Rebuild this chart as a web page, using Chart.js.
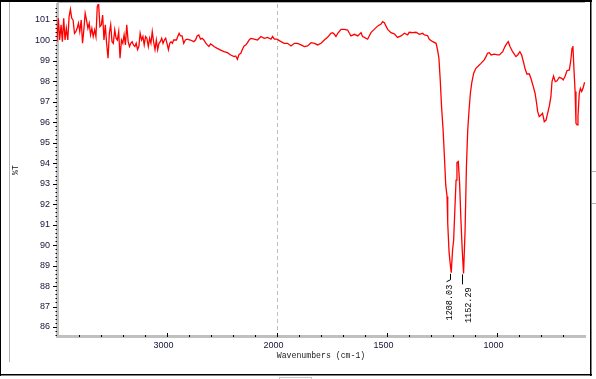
<!DOCTYPE html>
<html>
<head>
<meta charset="utf-8">
<title>IR spectrum</title>
<script src="https://cdn.jsdelivr.net/npm/chart.js@4.4.0/dist/chart.umd.min.js"></script>
<style>
  html, body { margin: 0; padding: 0; background: #fff; }
  canvas { display: block; }
</style>
</head>
<body>
<canvas id="irChart" width="596" height="379"></canvas>
<script>
// Spectrum (wavenumber in cm-1, transmittance in %T)
const wavenumbers = [
  4000, 3988, 3976, 3963, 3951, 3939, 3927, 3915, 3902, 3890, 3878, 3866, 3854, 3841, 3829, 3817,
  3805, 3793, 3780, 3768, 3756, 3744, 3732, 3719, 3707, 3695, 3683, 3671, 3658, 3646, 3634, 3622,
  3610, 3597, 3585, 3573, 3561, 3549, 3536, 3524, 3512, 3500, 3488, 3475, 3463, 3451, 3439, 3427,
  3414, 3402, 3390, 3378, 3366, 3353, 3341, 3329, 3317, 3305, 3292, 3280, 3268, 3256, 3244, 3231,
  3219, 3207, 3195, 3183, 3170, 3158, 3146, 3134, 3122, 3109, 3097, 3085, 3073, 3061, 3048, 3036,
  3024, 3012, 3000, 2987, 2975, 2963, 2951, 2939, 2926, 2914, 2902, 2890,
  2878, 2863, 2848, 2833, 2817, 2787, 2756, 2741, 2726, 2711, 2695, 2680, 2665, 2650, 2634, 2619,
  2604, 2589, 2573, 2543, 2512, 2482, 2451, 2421, 2390, 2375, 2360, 2345, 2329, 2314, 2299, 2284,
  2268, 2253, 2238, 2207, 2177, 2146, 2116, 2085, 2055, 2040, 2024, 2000,
  1982, 1967, 1952, 1936, 1921, 1906, 1891, 1876, 1861, 1845, 1830, 1815, 1800, 1785, 1770, 1755,
  1747, 1739, 1732, 1724, 1709, 1694, 1679, 1671, 1664, 1648, 1633, 1618, 1611, 1603, 1588, 1573,
  1558, 1542, 1527, 1520, 1512, 1505, 1497, 1482, 1467, 1452, 1444,
  1436, 1421, 1406, 1399, 1383, 1368, 1353, 1338, 1330, 1315, 1308, 1292, 1277, 1270, 1264, 1258,
  1252, 1245, 1239, 1233, 1227, 1224, 1218, 1213, 1208, 1202, 1197, 1191, 1186, 1182, 1176, 1170,
  1164, 1158, 1152, 1145, 1139, 1133, 1127, 1121, 1115, 1106, 1096, 1085, 1073, 1058, 1050, 1043,
  1035, 1027, 1012, 997, 989, 974, 964, 955, 949, 941, 929, 914, 906, 896, 888, 880,
  873, 864, 853, 846, 835, 827, 820, 815, 808, 800, 793, 785, 777, 770, 762, 755,
  750, 743, 735, 727, 717, 706, 699, 690, 682, 671, 664, 659, 655, 650, 645, 641,
  636, 632, 626, 621, 615, 609, 603, 599
];
const transmittance = [
  99.94, 101.08, 100.02, 100.76, 99.94, 101.08, 100.02, 100.59, 100.02, 101.16, 101.52, 101.08, 101.00, 100.35, 100.43, 100.59,
  100.84, 100.43, 101.00, 99.86, 100.51, 101.33, 101.00, 100.59, 100.84, 100.27, 100.59, 100.19, 100.51, 100.19, 101.65, 101.81,
  100.68, 100.76, 101.24, 100.02, 100.76, 99.86, 99.13, 100.35, 100.76, 99.94, 99.86, 100.51, 100.11, 100.02, 100.43, 99.13,
  100.02, 99.86, 100.27, 99.78, 100.76, 99.94, 99.70, 99.86, 99.94, 99.78, 99.70, 99.86, 99.55, 99.70, 100.35, 100.02,
  100.19, 99.78, 100.19, 100.11, 99.70, 100.11, 99.86, 100.43, 99.94, 99.55, 100.02, 99.55, 99.86, 99.94, 100.11, 99.86,
  100.02, 100.11, 99.86, 99.55, 99.86, 99.94, 99.86, 100.02, 100.02, 100.02, 100.19, 100.35,
  100.22, 100.22, 99.86, 100.02, 100.06, 100.02, 99.94, 100.02, 100.22, 100.27, 100.06, 100.10, 100.02, 99.89, 99.78, 99.70,
  99.83, 99.78, 99.70, 99.61, 99.53, 99.45, 99.40, 99.29, 99.21, 99.24, 99.08, 99.32, 99.37, 99.57, 99.73, 99.78,
  99.89, 100.02, 100.10, 100.06, 100.02, 100.19, 100.10, 100.15, 100.06, 100.19, 100.06, 100.06,
  99.94, 99.86, 99.86, 99.73, 99.86, 99.86, 99.78, 99.70, 99.73, 99.89, 99.86, 99.78, 99.86, 100.02, 100.15, 100.35,
  100.38, 100.30, 100.19, 100.35, 100.54, 100.54, 100.51, 100.35, 100.22, 100.30, 100.22, 100.38, 100.19, 100.15, 100.06, 100.38,
  100.54, 100.71, 100.80, 100.92, 100.87, 100.71, 100.54, 100.38, 100.32, 100.15, 100.19,
  100.22, 100.35, 100.27, 100.40, 100.38, 100.40, 100.30, 100.35, 100.27, 100.23, 100.06, 99.94, 99.86, 99.53, 99.13, 98.07,
  96.76, 95.63, 94.32, 92.94, 92.37, 91.08, 89.68, 89.12, 88.65, 89.76, 90.25, 91.88, 93.18, 94.03, 94.08, 93.04,
  91.23, 89.76, 88.62, 90.74, 93.83, 95.63, 96.60, 97.42, 97.91, 98.40, 98.64, 98.75, 98.88, 99.05, 99.21, 99.37,
  99.40, 99.29, 99.33, 99.29, 99.29, 99.45, 99.70, 99.86, 99.94, 99.70, 99.45, 99.21, 99.29, 99.45, 99.29, 98.96,
  98.64, 98.36, 98.36, 98.15, 97.74, 97.42, 96.93, 96.52, 96.28, 96.36, 96.44, 96.03, 96.11, 96.44, 96.80, 97.25,
  97.99, 98.26, 97.99, 98.03, 98.20, 98.15, 98.07, 98.26, 98.52, 98.56, 99.08, 99.62, 99.73, 98.56, 97.50, 95.95,
  95.87, 96.28, 97.42, 97.66, 97.50, 97.66, 97.91, 97.95
];
const xTickLabels = [3000, 2000, 1500, 1000];
const yTickLabels = [86, 87, 88, 89, 90, 91, 92, 93, 94, 95, 96, 97, 98, 99, 100, 101];
const peakWavenumbers = [1208.03, 1152.29];
const peakLabels = ['1208.03', '1152.29'];

// above 2000 cm-1 the axis runs at half scale, like the instrument plot
function toAxis(w) { return w > 2000 ? 2000 + (w - 2000) / 2 : w; }
function fromAxis(t) { return t > 2000 ? Math.round(2000 + (t - 2000) * 2) : Math.round(t); }

const labelColor = '#14143a';
const monoFont = '"Liberation Mono", "DejaVu Sans Mono", monospace';

function nearestValue(w) {
  let best = 0;
  for (let i = 1; i < wavenumbers.length; i++) {
    if (Math.abs(wavenumbers[i] - w) < Math.abs(wavenumbers[best] - w)) best = i;
  }
  return transmittance[best];
}

const decorations = {
  id: 'decorations',
  beforeDatasetsDraw(chart) {
    const { ctx, chartArea, scales } = chart;
    // dashed marker where the scale changes
    const px = Math.round(scales.x.getPixelForValue(2000)) + 0.5;
    ctx.save();
    ctx.strokeStyle = '#c0c0c0';
    ctx.lineWidth = 1;
    ctx.setLineDash([4, 3]);
    ctx.beginPath();
    ctx.moveTo(px, chartArea.top);
    ctx.lineTo(px, chartArea.bottom - 2);
    ctx.stroke();
    ctx.restore();
  },
  afterDraw(chart) {
    const { ctx, chartArea, scales } = chart;
    const x = scales.x, y = scales.y;
    ctx.save();
    ctx.fillStyle = '#000';
    // tick marks
    y.ticks.forEach(t => {
      const py = Math.round(y.getPixelForValue(t.value));
      if (yTickLabels.includes(Math.round(t.value)) && Math.abs(t.value - Math.round(t.value)) < 1e-6) {
        ctx.fillRect(chartArea.left - 4, py, 4, 1);
      } else {
        ctx.fillRect(chartArea.left - 1.5, py, 1.5, 1);
      }
    });
    x.ticks.forEach(t => {
      const px = Math.round(x.getPixelForValue(t.value));
      if (xTickLabels.includes(fromAxis(t.value))) {
        ctx.fillRect(px, chartArea.bottom - 3, 1, 4);
      } else {
        ctx.fillRect(px, chartArea.bottom - 1, 1, 2);
      }
    });

    // peak labels with leader lines
    ctx.strokeStyle = '#000';
    ctx.lineWidth = 1;
    ctx.font = '8.5px ' + monoFont;
    ctx.textAlign = 'right';
    ctx.textBaseline = 'middle';
    peakWavenumbers.forEach((w, i) => {
      const px = Math.round(x.getPixelForValue(toAxis(w))) - 0.5;
      const py = y.getPixelForValue(nearestValue(w));
      ctx.beginPath();
      if (i === 0) {
        ctx.moveTo(px, py + 1);
        ctx.lineTo(px, py + 7);
        ctx.lineTo(px - 4, py + 9);
      } else {
        ctx.moveTo(px, py + 1);
        ctx.lineTo(px, py + 11);
      }
      ctx.stroke();
      ctx.save();
      ctx.translate(i === 0 ? px - 1 : px + 6, py + (i === 0 ? 12 : 14));
      ctx.rotate(-Math.PI / 2);
      ctx.fillText(peakLabels[i], 0, 0);
      ctx.restore();
    });

    // window frame
    ctx.fillStyle = '#000';
    ctx.fillRect(0, 0, 592, 2);
    ctx.fillRect(0, 0, 1, 376);
    ctx.fillRect(590, 0, 1.5, 376);
    ctx.fillRect(0, 374, 592, 1.5);
    ctx.fillStyle = '#b4b4b4';
    ctx.fillRect(chartArea.left, 2, chartArea.right - chartArea.left, 1);
    ctx.fillRect(9, 2, 1, 360);
    ctx.fillRect(592, 171, 4, 1);
    ctx.fillRect(592, 203, 4, 1);
    ctx.strokeStyle = '#c8c8c8';
    ctx.strokeRect(279.5, 377.5, 32, 4);
    ctx.restore();
  }
};

const points = wavenumbers.map((w, i) => ({ x: toAxis(w), y: transmittance[i] }));

const ctx = document.getElementById('irChart').getContext('2d');
new Chart(ctx, {
  type: 'line',
  data: {
    datasets: [{
      data: points,
      borderColor: '#ff0000',
      borderWidth: 1.3,
      pointRadius: 0,
      tension: 0,
      fill: false
    }]
  },
  options: {
    responsive: false,
    animation: false,
    devicePixelRatio: 1,
    layout: { padding: { top: 4, right: 11, bottom: 0, left: 0 } },
    plugins: { legend: { display: false }, tooltip: { enabled: false } },
    scales: {
      x: {
        type: 'linear',
        reverse: true,
        min: 600,
        max: 3000,
        afterFit: s => {
          s.height = 43;
          s.paddingLeft = 0;
          s.paddingRight = 0;
        },
        afterBuildTicks: s => {
          const ticks = [];
          for (let t = 700; t <= 2900; t += 100) ticks.push({ value: t });
          s.ticks = ticks;
        },
        ticks: {
          autoSkip: false,
          maxRotation: 0,
          padding: 4,
          labelOffset: -3.5,
          color: labelColor,
          font: { family: '"Liberation Sans", Arial, sans-serif', size: 9 },
          callback: v => (xTickLabels.includes(fromAxis(v)) ? String(fromAxis(v)) : '')
        },
        grid: { drawOnChartArea: false, drawTicks: false },
        border: { color: '#c0c0c0', width: 3 },
        title: {
          display: true,
          text: 'Wavenumbers (cm-1)',
          color: '#1a1a1a',
          font: { family: monoFont, size: 8.2 },
          padding: { top: 0, bottom: 18 }
        }
      },
      y: {
        type: 'linear',
        min: 85.56,
        max: 101.78,
        afterFit: s => {
          s.width = 57;
          s.paddingTop = 0;
          s.paddingBottom = 0;
        },
        afterBuildTicks: s => {
          const ticks = [];
          for (let k = 428; k <= 508; k++) ticks.push({ value: Math.round(k * 0.2 * 10) / 10 });
          s.ticks = ticks.filter(t => t.value >= s.min && t.value <= s.max);
        },
        ticks: {
          autoSkip: false,
          padding: 7,
          color: labelColor,
          font: { family: '"Liberation Sans", Arial, sans-serif', size: 9 },
          callback: v => (Math.abs(v - Math.round(v)) < 1e-6 && yTickLabels.includes(Math.round(v)) ? String(Math.round(v)) : '')
        },
        grid: { drawOnChartArea: false, drawTicks: false },
        border: { color: '#c0c0c0', width: 3 },
        title: {
          display: true,
          text: '%T',
          color: '#1a1a1a',
          font: { family: monoFont, size: 8.2 },
          padding: { top: 10.5, bottom: 0 }
        }
      }
    }
  },
  plugins: [decorations]
});
</script>
</body>
</html>
